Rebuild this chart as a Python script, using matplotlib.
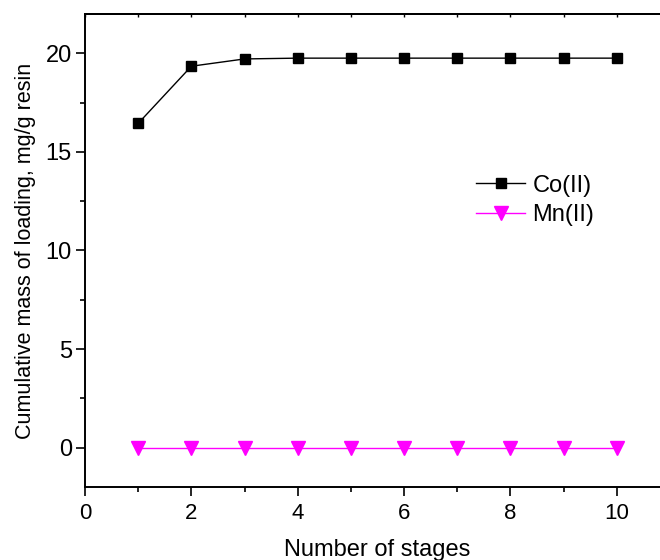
import matplotlib
matplotlib.use("Agg")
import matplotlib.pyplot as plt
from matplotlib.ticker import MultipleLocator

plt.rcParams['font.family'] = ['Liberation Sans', 'DejaVu Sans']

# stage number vs cumulative loading (mg/g resin)
stages = [1, 2, 3, 4, 5, 6, 7, 8, 9, 10]
co_loading = [16.45, 19.35, 19.72, 19.76, 19.76, 19.76, 19.76, 19.76, 19.76, 19.76]
mn_loading = [0, 0, 0, 0, 0, 0, 0, 0, 0, 0]
series_names = ["Co(II)", "Mn(II)"]

fig = plt.figure(figsize=(6.6, 5.6), dpi=100)
ax = fig.add_axes([0.1288, 0.1304, 0.8864, 0.8446])

ax.plot(stages, co_loading, color="black", lw=1.0, marker="s", ms=7.5,
        mfc="black", mec="black", label=series_names[0])
ax.plot(stages, mn_loading, color="#ff00ff", lw=1.0, marker="v", ms=10,
        mfc="#ff00ff", mec="#ff00ff", label=series_names[1])

ax.set_xlim(0, 11)
ax.set_ylim(-2, 22)
ax.xaxis.set_major_locator(MultipleLocator(2))
ax.xaxis.set_minor_locator(MultipleLocator(1))
ax.yaxis.set_major_locator(MultipleLocator(5))
ax.yaxis.set_minor_locator(MultipleLocator(2.5))

for side in ["left", "bottom", "top"]:
    ax.spines[side].set_linewidth(1.4)
ax.spines["right"].set_visible(False)

ax.tick_params(axis="both", which="major", direction="out", length=6.5, width=1.2)
ax.tick_params(axis="both", which="minor", direction="out", length=3.5, width=1.2)
ax.tick_params(axis="x", labelsize=16, pad=5)
ax.tick_params(axis="y", labelsize=17, pad=3)

# short inward ticks along the top edge
top = ax.secondary_xaxis("top")
top.xaxis.set_major_locator(MultipleLocator(2))
top.xaxis.set_minor_locator(MultipleLocator(1))
top.tick_params(which="both", direction="in", length=2, width=1.0, labeltop=False)
top.spines["top"].set_linewidth(1.4)

ax.set_xlabel("Number of stages", fontsize=17, labelpad=11)
ax.set_ylabel("Cumulative mass of loading, mg/g resin", fontsize=15.5, labelpad=7)

ax.legend(loc="upper left", bbox_to_anchor=(0.721, 0.688),
          bbox_transform=fig.transFigure, frameon=False, fontsize=17,
          handlelength=2.1, handletextpad=0.3, labelspacing=0.3,
          borderpad=0, borderaxespad=0)

fig.savefig("out.png", dpi=100)
